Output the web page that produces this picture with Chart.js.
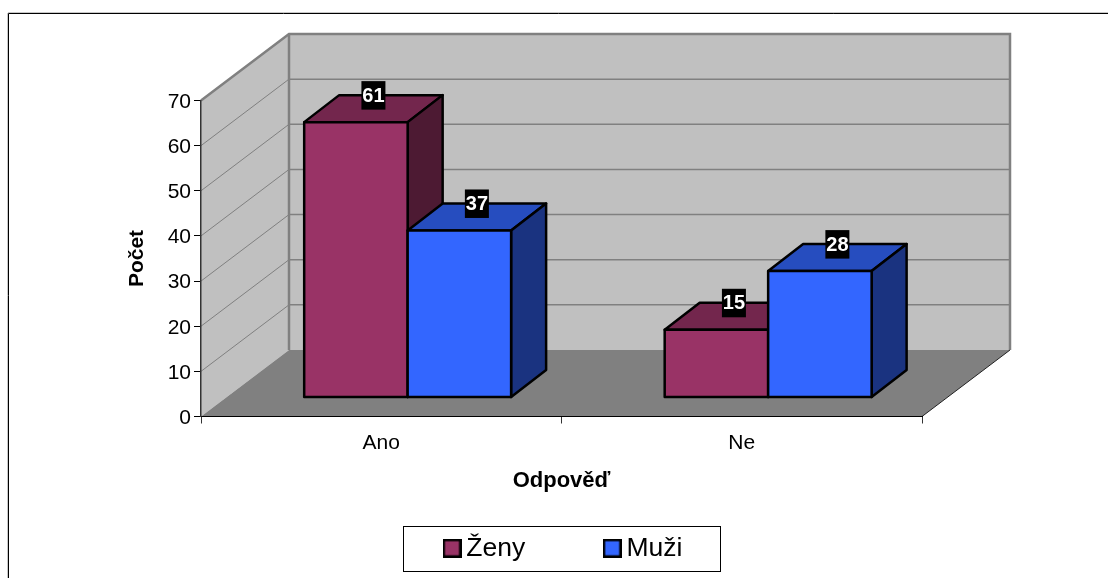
<!DOCTYPE html>
<html>
<head>
<meta charset="utf-8">
<style>
    html, body { margin: 0; padding: 0; background: #fff; }
    canvas { display: block; }
</style>
<script src="https://cdn.jsdelivr.net/npm/chart.js@4"></script>
</head>
<body>
<canvas id="chart" width="1109" height="578"></canvas>
<script>
const categories = ['Ano', 'Ne'];
const zenyValues = [61, 15];
const muziValues = [37, 28];
const seriesNames = ['Ženy', 'Muži'];
const valueMax = 70;
const valueStep = 10;

const FONT = '"Liberation Sans", Arial, sans-serif';

// depth of the whole box and where the bars sit inside it
const WALL_DX = 88, WALL_DY = -66.5;
const BAR_SHIFT_DX = 26.4, BAR_SHIFT_DY = -19;
const BAR_DX = 35, BAR_DY = -27;
const BAR_STROKE = 2.5;

const colors = [
    { front: '#993366', top: '#73264d', side: '#4d1a33' },
    { front: '#3366ff', top: '#264dbf', side: '#1a3380' }
];

function swatch(fill) {
    const c = document.createElement('canvas');
    c.width = 19;
    c.height = 19;
    const g = c.getContext('2d');
    g.fillStyle = '#000';
    g.fillRect(0, 0, 19, 19);
    g.fillStyle = fill;
    g.fillRect(2.5, 2.5, 14, 14);
    return c;
}

function poly(ctx, pts, fill, stroke, width) {
    ctx.beginPath();
    pts.forEach((p, i) => i ? ctx.lineTo(p[0], p[1]) : ctx.moveTo(p[0], p[1]));
    ctx.closePath();
    if (fill) {
        ctx.fillStyle = fill;
        ctx.fill();
    }
    if (stroke) {
        ctx.strokeStyle = stroke;
        ctx.lineWidth = width;
        ctx.lineJoin = 'round';
        ctx.stroke();
    }
}

function line(ctx, pts, color, width) {
    ctx.beginPath();
    pts.forEach((p, i) => i ? ctx.lineTo(p[0], p[1]) : ctx.moveTo(p[0], p[1]));
    ctx.strokeStyle = color;
    ctx.lineWidth = width;
    ctx.stroke();
}

const box3d = {
    id: 'box3d',
    afterLayout(chart) {
        // legend sits in its own frame, not where the layout puts it
        const lg = chart.legend;
        lg.left = 365;
        lg.right = 1109;
        lg.top = 449;
        lg.bottom = 578;
    },
    beforeDraw(chart) {
        const ctx = chart.ctx;
        const { left, right, top, bottom } = chart.chartArea;
        const y = chart.scales.y;
        ctx.save();

        // outer frame, cut by the page on the right and at the bottom
        line(ctx, [[8, 12.5], [1108, 12.5]], '#c8c8c8', 1);
        line(ctx, [[7.5, 13], [7.5, 578]], '#c8c8c8', 1);
        line(ctx, [[8.5, 578], [8.5, 13.5], [1108, 13.5]], '#000', 1);

        // walls and floor
        poly(ctx, [[left, top], [left + WALL_DX, top + WALL_DY], [left + WALL_DX, bottom + WALL_DY], [left, bottom]], '#c0c0c0');
        poly(ctx, [[left + WALL_DX, top + WALL_DY], [right + WALL_DX, top + WALL_DY], [right + WALL_DX, bottom + WALL_DY], [left + WALL_DX, bottom + WALL_DY]], '#c0c0c0');
        poly(ctx, [[left, bottom], [left + WALL_DX, bottom + WALL_DY], [right + WALL_DX, bottom + WALL_DY], [right, bottom]], '#808080');

        // gridlines from the value scale
        y.ticks.forEach(t => {
            if (t.value === 0 || t.value === valueMax) return;
            const py = y.getPixelForValue(t.value);
            line(ctx, [[left, py], [left + WALL_DX, py + WALL_DY]], '#808080', 1);
            line(ctx, [[left + WALL_DX, py + WALL_DY], [right + WALL_DX, py + WALL_DY]], '#808080', 1.5);
        });

        // box edges
        line(ctx, [[left, top], [left + WALL_DX, top + WALL_DY], [right + WALL_DX, top + WALL_DY], [right + WALL_DX, bottom + WALL_DY]], '#808080', 2.5);
        line(ctx, [[left + WALL_DX, top + WALL_DY], [left + WALL_DX, bottom + WALL_DY]], '#808080', 2.5);
        line(ctx, [[right, bottom], [right + WALL_DX, bottom + WALL_DY]], '#222', 1);

        // legend frame
        ctx.strokeStyle = '#000';
        ctx.lineWidth = 1;
        ctx.fillStyle = '#fff';
        ctx.fillRect(403.5, 526.5, 317, 45);
        ctx.strokeRect(403.5, 526.5, 317, 45);
        ctx.restore();
    },
    beforeDatasetsDraw(chart) {
        const ctx = chart.ctx;
        const metas = chart.getSortedVisibleDatasetMetas();

        // left series first, the right one has to cover its side face
        metas.forEach(meta => {
            const c = colors[meta.index];
            ctx.save();
            ctx.translate(BAR_SHIFT_DX, BAR_SHIFT_DY);
            meta.data.forEach(bar => {
                const l = bar.x - bar.width / 2, r = bar.x + bar.width / 2;
                const t = bar.y, b = bar.base;
                poly(ctx, [[l, t], [l + BAR_DX, t + BAR_DY], [r + BAR_DX, t + BAR_DY], [r, t]], c.top, '#000', BAR_STROKE);
                poly(ctx, [[r, t], [r + BAR_DX, t + BAR_DY], [r + BAR_DX, b + BAR_DY], [r, b]], c.side, '#000', BAR_STROKE);
            });
            meta.controller.draw();
            meta.data.forEach(bar => {
                const l = bar.x - bar.width / 2, r = bar.x + bar.width / 2;
                poly(ctx, [[l, bar.y], [r, bar.y], [r, bar.base], [l, bar.base]], null, '#000', BAR_STROKE);
            });
            ctx.restore();
        });

        // value labels on the top faces
        ctx.save();
        ctx.font = 'bold 20px ' + FONT;
        ctx.textAlign = 'center';
        ctx.textBaseline = 'middle';
        metas.forEach(meta => {
            const values = chart.data.datasets[meta.index].data;
            meta.data.forEach((bar, i) => {
                const cx = bar.x + BAR_SHIFT_DX + BAR_DX / 2;
                const cy = bar.y + BAR_SHIFT_DY + BAR_DY;
                ctx.fillStyle = '#000';
                ctx.fillRect(cx - 12, cy - 14, 24, 28.5);
                ctx.fillStyle = '#fff';
                ctx.fillText(String(values[i]), cx, cy + 1);
            });
        });
        ctx.restore();
        return false;
    }
};

new Chart(document.getElementById('chart'), {
    type: 'bar',
    data: {
        labels: categories,
        datasets: [
            { label: seriesNames[0], data: zenyValues, backgroundColor: colors[0].front, pointStyle: swatch(colors[0].front) },
            { label: seriesNames[1], data: muziValues, backgroundColor: colors[1].front, pointStyle: swatch(colors[1].front) }
        ]
    },
    options: {
        responsive: false,
        animation: false,
        events: [],
        layout: {
            autoPadding: false,
            padding: { left: 125, right: 187, top: 100.5, bottom: 0 }
        },
        categoryPercentage: 0.574,
        barPercentage: 1,
        elements: {
            bar: { borderWidth: 0 }
        },
        scales: {
            x: {
                afterFit: s => { s.height = 77.5; },
                grid: { drawOnChartArea: false, drawTicks: true, tickLength: 7, tickColor: '#333', offset: true },
                border: { color: '#000', width: 1 },
                ticks: { color: '#000', font: { family: FONT, size: 21 }, padding: 7, maxRotation: 0 },
                title: { display: true, text: 'Odpověď', color: '#000', padding: 0, font: { family: FONT, size: 22, weight: 'bold' } }
            },
            y: {
                min: 0,
                max: valueMax,
                afterFit: s => { s.width = 76; },
                grid: { drawOnChartArea: false, drawTicks: true, tickLength: 7, tickColor: '#000' },
                border: { color: '#333', width: 1.5 },
                ticks: { stepSize: valueStep, color: '#000', font: { family: FONT, size: 21 }, padding: 3, labelOffset: 1.5 },
                title: { display: true, text: 'Počet', color: '#000', padding: 0, font: { family: FONT, size: 21, weight: 'bold' } }
            }
        },
        plugins: {
            tooltip: { enabled: false },
            title: { display: false },
            legend: {
                display: true,
                position: 'bottom',
                align: 'start',
                fullSize: false,
                maxHeight: 84,
                labels: {
                    usePointStyle: true,
                    pointStyleWidth: 2,
                    padding: 86,
                    color: '#000',
                    font: { family: FONT, size: 26.5 }
                }
            }
        }
    },
    plugins: [box3d]
});
</script>
</body>
</html>
